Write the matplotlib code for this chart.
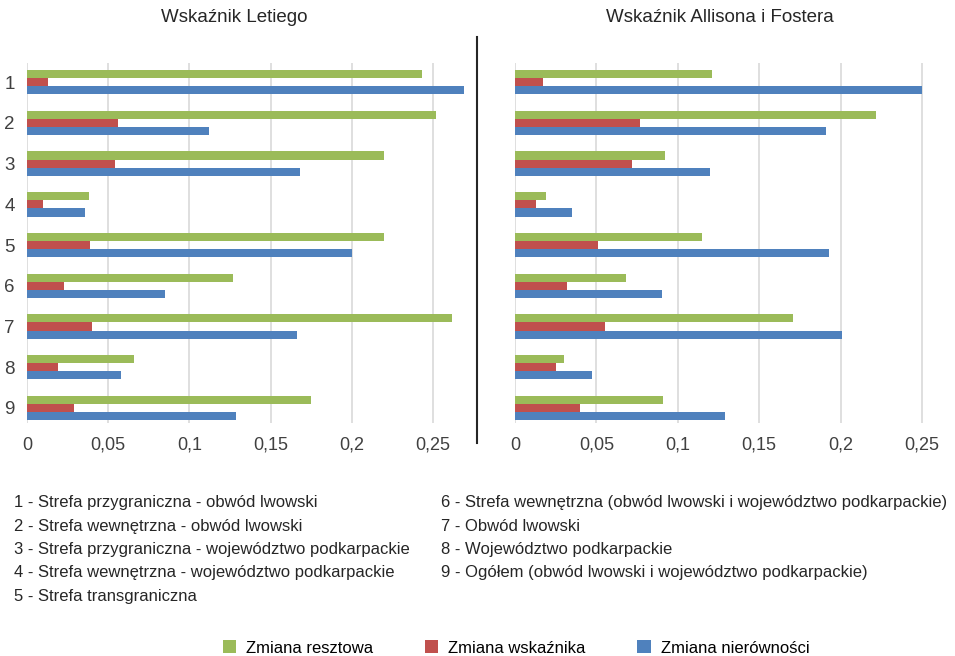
import matplotlib
matplotlib.use("Agg")
import matplotlib.pyplot as plt
from matplotlib.patches import Patch
from matplotlib.lines import Line2D
import numpy as np

# numery kategorii (1..9)
kategorie = [1, 2, 3, 4, 5, 6, 7, 8, 9]

# Wskaznik Letiego
leti_resztowa = [0.243, 0.252, 0.220, 0.038, 0.220, 0.127, 0.262, 0.066, 0.175]
leti_wskaznika = [0.013, 0.056, 0.054, 0.010, 0.039, 0.023, 0.040, 0.019, 0.029]
leti_nierownosci = [0.269, 0.112, 0.168, 0.036, 0.200, 0.085, 0.166, 0.058, 0.129]

# Wskaznik Allisona i Fostera
af_resztowa = [0.121, 0.222, 0.092, 0.019, 0.115, 0.068, 0.171, 0.030, 0.091]
af_wskaznika = [0.017, 0.077, 0.072, 0.013, 0.051, 0.032, 0.055, 0.025, 0.040]
af_nierownosci = [0.250, 0.191, 0.120, 0.035, 0.193, 0.090, 0.201, 0.047, 0.129]

xticks = [0, 0.05, 0.1, 0.15, 0.2, 0.25]
xtick_labels = ["0", "0,05", "0,1", "0,15", "0,2", "0,25"]

opisy_lewe = [
    "1 - Strefa przygraniczna - obwód lwowski",
    "2 - Strefa wewnętrzna - obwód lwowski",
    "3 - Strefa przygraniczna - województwo podkarpackie",
    "4 - Strefa wewnętrzna - województwo podkarpackie",
    "5 - Strefa transgraniczna",
]
opisy_prawe = [
    "6 - Strefa wewnętrzna (obwód lwowski i województwo podkarpackie)",
    "7 - Obwód lwowski",
    "8 - Województwo podkarpackie",
    "9 - Ogółem (obwód lwowski i województwo podkarpackie)",
]

serie = ["Zmiana resztowa", "Zmiana wskaźnika", "Zmiana nierówności"]
kolory = ["#9BBB59", "#C0504D", "#4F81BD"]

FONT = ["Liberation Sans", "DejaVu Sans"]
TXT = "#262626"

W, H = 955, 656
fig = plt.figure(figsize=(W / 100, H / 100), dpi=100)


def px_axes(x0, y_top, w, h):
    return fig.add_axes([x0 / W, 1 - (y_top + h) / H, w / W, h / H])


def rysuj(ax, resztowa, wskaznika, nierownosci, xmax, pokaz_y):
    y = np.array(kategorie, dtype=float)
    bh = 0.2
    for dane, dy, kol in zip([resztowa, wskaznika, nierownosci], [-bh, 0, bh], kolory):
        ax.barh(y + dy, dane, height=bh, color=kol, zorder=3)
    ax.set_xlim(0, xmax)
    ax.set_ylim(9.37, 0.53)
    ax.set_xticks(xticks)
    ax.set_xticklabels(xtick_labels, family=FONT, fontsize=13, color="#404040")
    ax.set_yticks(kategorie)
    if pokaz_y:
        ax.set_yticklabels([str(k) for k in kategorie], family=FONT, fontsize=13.5, color="#404040")
    else:
        ax.set_yticklabels([])
    ax.tick_params(length=0, axis="x", pad=10)
    ax.tick_params(length=0, axis="y", pad=9)
    ax.grid(axis="x", color="#D9D9D9", linewidth=1.2, zorder=0)
    for s in ax.spines.values():
        s.set_visible(False)


ax1 = px_axes(27, 63, 0.27 * 1624, 360)
rysuj(ax1, leti_resztowa, leti_wskaznika, leti_nierownosci, 0.27, True)

ax2 = px_axes(515, 63, 0.255 * 1628, 360)
rysuj(ax2, af_resztowa, af_wskaznika, af_nierownosci, 0.255, False)

fig.text(234 / W, 1 - 17 / H, "Wskaźnik Letiego", ha="center", va="center",
         family=FONT, fontsize=13.5, color=TXT)
fig.text(720 / W, 1 - 17 / H, "Wskaźnik Allisona i Fostera", ha="center", va="center",
         family=FONT, fontsize=13.5, color=TXT)

# pionowa linia rozdzielajaca panele
fig.add_artist(Line2D([477 / W, 477 / W], [1 - 37 / H, 1 - 443 / H],
                      transform=fig.transFigure, color="#262626", linewidth=1.5))

# objasnienia numerow
for i, t in enumerate(opisy_lewe):
    fig.text(14 / W, 1 - (503 + i * 23.3) / H, t, ha="left", va="center",
             family=FONT, fontsize=12, color=TXT)
for i, t in enumerate(opisy_prawe):
    fig.text(441 / W, 1 - (503 + i * 23.3) / H, t, ha="left", va="center",
             family=FONT, fontsize=12, color=TXT)

uchwyty = [Patch(facecolor=k, edgecolor="none") for k in kolory]
fig.legend(uchwyty, serie, loc="center", bbox_to_anchor=(516 / W, 1 - 648 / H),
           ncol=3, frameon=False, handlelength=0.8, handleheight=0.8,
           handletextpad=0.6, columnspacing=3.1, borderpad=0.2,
           prop={"family": FONT, "size": 12})

fig.savefig("out.png", dpi=100, facecolor="white")
